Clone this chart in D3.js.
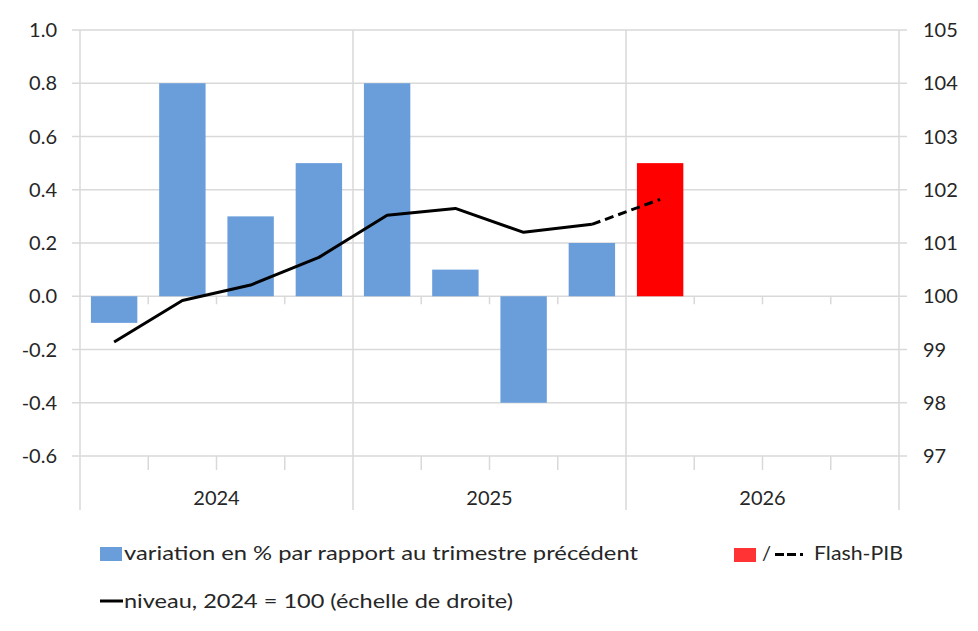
<!DOCTYPE html>
<html>
<head>
<meta charset="utf-8">
<script src="https://cdn.jsdelivr.net/npm/d3@7"></script>
<style>
  body { margin: 0; background: #fff; }
  svg text { font-family: Lato, "Open Sans", sans-serif; fill: #262626; }
</style>
</head>
<body>
<div id="chart"></div>
<script>
// quarters shown on the category axis (3 years x 4)
var quarters = ["2024T1", "2024T2", "2024T3", "2024T4",
                "2025T1", "2025T2", "2025T3", "2025T4",
                "2026T1", "2026T2", "2026T3", "2026T4"];
var years = ["2024", "2025", "2026"];

// % change vs previous quarter
var variation = [-0.1, 0.8, 0.3, 0.5, 0.8, 0.1, -0.4, 0.2];
// flash estimate
var flashQuarter = "2026T1";
var flashVariation = 0.5;

// level, 2024 = 100 (right scale)
var niveau = [99.14, 99.92, 100.21, 100.73, 101.52, 101.65, 101.20, 101.35];
var flashNiveau = 101.82;

var leftTicks = [-0.6, -0.4, -0.2, 0.0, 0.2, 0.4, 0.6, 0.8, 1.0];
var rightTicks = [97, 98, 99, 100, 101, 102, 103, 104, 105];

var width = 978, height = 631;
var plotL = 80, plotR = 899, plotT = 30, plotB = 456;

var svg = d3.select("#chart").append("svg")
    .attr("width", width).attr("height", height);

var x = d3.scaleBand().domain(quarters).range([plotL, plotR])
    .paddingInner(0.32).paddingOuter(0.16);
var step = x.step();
var yL = d3.scaleLinear().domain([-0.6, 1.0]).range([plotB, plotT]);
var yR = d3.scaleLinear().domain([97, 105]).range([plotB, plotT]);

var grid = "#d9d9d9";

// horizontal gridlines with small ticks on both sides
svg.append("g").selectAll("line").data(leftTicks).enter().append("line")
    .attr("x1", plotL - 8).attr("x2", plotR + 8)
    .attr("y1", function (d) { return yL(d); })
    .attr("y2", function (d) { return yL(d); })
    .attr("stroke", grid).attr("stroke-width", 1.5);

// vertical year separators
var yearEdges = d3.range(years.length + 1).map(function (i) { return plotL + i * 4 * step; });
svg.append("g").selectAll("line").data(yearEdges).enter().append("line")
    .attr("x1", function (d) { return d; }).attr("x2", function (d) { return d; })
    .attr("y1", plotT).attr("y2", 510)
    .attr("stroke", grid).attr("stroke-width", 1.5);

// quarter ticks (at 0 line and at bottom)
var qEdges = d3.range(1, quarters.length).filter(function (i) { return i % 4 != 0; })
    .map(function (i) { return plotL + i * step; });
svg.append("g").selectAll("line").data(qEdges).enter().append("line")
    .attr("x1", function (d) { return d; }).attr("x2", function (d) { return d; })
    .attr("y1", yL(0)).attr("y2", yL(0) + 8)
    .attr("stroke", grid).attr("stroke-width", 1.5);
svg.append("g").selectAll("line").data(qEdges).enter().append("line")
    .attr("x1", function (d) { return d; }).attr("x2", function (d) { return d; })
    .attr("y1", plotB).attr("y2", plotB + 14)
    .attr("stroke", grid).attr("stroke-width", 1.5);

// bars
svg.append("g").selectAll("rect").data(variation).enter().append("rect")
    .attr("x", function (d, i) { return x(quarters[i]); })
    .attr("width", x.bandwidth())
    .attr("y", function (d) { return yL(Math.max(0, d)); })
    .attr("height", function (d) { return Math.abs(yL(d) - yL(0)); })
    .attr("fill", "#6a9edb");

svg.append("rect")
    .attr("x", x(flashQuarter)).attr("width", x.bandwidth())
    .attr("y", yL(flashVariation)).attr("height", yL(0) - yL(flashVariation))
    .attr("fill", "#ff0000");

// level line
var line = d3.line()
    .x(function (d) { return x(d[0]) + x.bandwidth() / 2; })
    .y(function (d) { return yR(d[1]); });

var solid = niveau.map(function (v, i) { return [quarters[i], v]; });
svg.append("path").datum(solid).attr("d", line)
    .attr("fill", "none").attr("stroke", "#000").attr("stroke-width", 3)
    .attr("stroke-linejoin", "round");

var dashed = [[quarters[niveau.length - 1], niveau[niveau.length - 1]], [flashQuarter, flashNiveau]];
svg.append("path").datum(dashed).attr("d", line)
    .attr("fill", "none").attr("stroke", "#000").attr("stroke-width", 3)
    .attr("stroke-dasharray", "9,5");

// axis labels
svg.append("g").selectAll("text").data(leftTicks).enter().append("text")
    .attr("x", 57).attr("y", function (d) { return yL(d); })
    .attr("dy", "0.35em").attr("text-anchor", "end")
    .style("font-size", "20px")
    .text(function (d) { return d.toFixed(1); });

svg.append("g").selectAll("text").data(rightTicks).enter().append("text")
    .attr("x", 923).attr("y", function (d) { return yR(d); })
    .attr("dy", "0.35em")
    .style("font-size", "20px")
    .text(function (d) { return d; });

svg.append("g").selectAll("text").data(years).enter().append("text")
    .attr("x", function (d, i) { return plotL + (i * 4 + 2) * step; })
    .attr("y", 505).attr("text-anchor", "middle")
    .style("font-size", "20px")
    .text(function (d) { return d; });

// legend
var lg = svg.append("g");
lg.append("rect").attr("x", 100).attr("y", 547).attr("width", 22).attr("height", 14)
    .attr("fill", "#6a9edb");
lg.append("text").attr("x", 124).attr("y", 560).style("font-size", "20px")
    .attr("textLength", 514).attr("lengthAdjust", "spacingAndGlyphs")
    .text("variation en % par rapport au trimestre précédent");

lg.append("rect").attr("x", 734).attr("y", 548).attr("width", 22).attr("height", 14)
    .attr("fill", "#ff3333");
lg.append("text").attr("x", 762).attr("y", 560).style("font-size", "20px").text("/");
lg.append("line").attr("x1", 775).attr("x2", 803).attr("y1", 554.5).attr("y2", 554.5)
    .attr("stroke", "#000").attr("stroke-width", 3).attr("stroke-dasharray", "9,3,9,4,3,100");
lg.append("text").attr("x", 814).attr("y", 560).style("font-size", "20px")
    .attr("textLength", 89).attr("lengthAdjust", "spacingAndGlyphs")
    .text("Flash-PIB");

lg.append("line").attr("x1", 100).attr("x2", 123).attr("y1", 601).attr("y2", 601)
    .attr("stroke", "#000").attr("stroke-width", 3);
lg.append("text").attr("x", 124).attr("y", 608).style("font-size", "20px")
    .attr("textLength", 389).attr("lengthAdjust", "spacingAndGlyphs")
    .text("niveau, 2024 = 100 (échelle de droite)");
</script>
</body>
</html>
